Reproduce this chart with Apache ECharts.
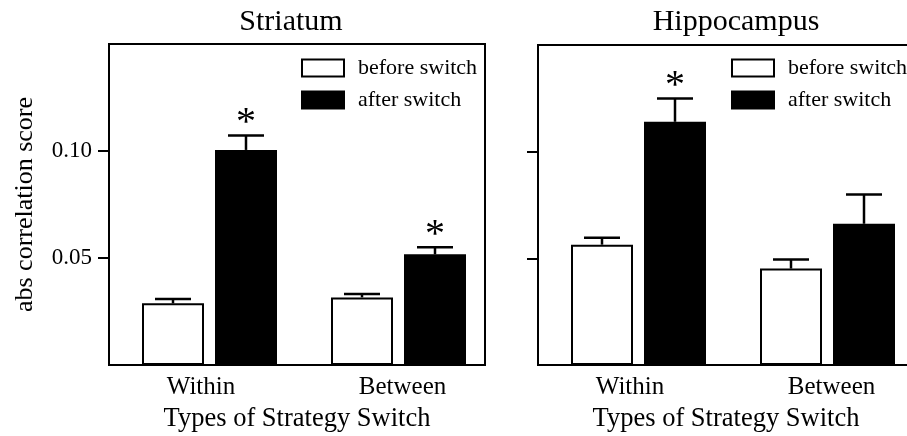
<!DOCTYPE html>
<html>
<head>
<meta charset="utf-8">
<script src="https://cdn.jsdelivr.net/npm/echarts@6/dist/echarts.min.js"></script>
<style>
  html, body { margin: 0; padding: 0; background: #fff; }
  #chart { width: 907px; height: 436px; }
</style>
</head>
<body>
<div id="chart"></div>
<script>
// ---- data -------------------------------------------------------------
const categories = ['Within', 'Between'];
const seriesNames = ['before switch', 'after switch'];
const panelTitles = ['Striatum', 'Hippocampus'];
const yAxisName = 'abs correlation score';
const xAxisName = 'Types of Strategy Switch';
const yTicks = [0.05, 0.10];

// Striatum: mean and SEM per switch type
const striatumBefore = [0.0288, 0.0316];
const striatumBeforeErr = [0.0020, 0.0016];
const striatumAfter = [0.1005, 0.0517];
const striatumAfterErr = [0.0068, 0.0033];
const striatumSig = [1, 1];

// Hippocampus: mean and SEM per switch type
const hippoBefore = [0.0564, 0.0452];
const hippoBeforeErr = [0.0033, 0.0042];
const hippoAfter = [0.1140, 0.0662];
const hippoAfterErr = [0.0109, 0.0137];
const hippoSig = [1, 0];

// ---- layout / style ---------------------------------------------------
const FONT = '"Liberation Serif", "Times New Roman", Times, serif';
const BAR_W = 62;
const BAR_BORDER = 2;
const BAR_GAP_PX = 11;
const HALF_PAIR = (BAR_W + BAR_GAP_PX) / 2;
const PLOT_W = 376;
const GROUP_FIRST_PX = 100.5;   // first group centre from plot's left edge
const GROUP_STEP_PX = 189;      // distance between group centres
const X_MIN = -GROUP_FIRST_PX / GROUP_STEP_PX;
const X_MAX = X_MIN + PLOT_W / GROUP_STEP_PX;

const panels = [
  { title: panelTitles[0], titleX: 291, left: 109, top: 44, bottom: 365, showLabels: true,
    before: striatumBefore, beforeErr: striatumBeforeErr,
    after: striatumAfter, afterErr: striatumAfterErr, sig: striatumSig, legendX: 301 },
  { title: panelTitles[1], titleX: 736, left: 538, top: 45, bottom: 365, showLabels: false,
    before: hippoBefore, beforeErr: hippoBeforeErr,
    after: hippoAfter, afterErr: hippoAfterErr, sig: hippoSig, legendX: 731 }
];

const labelShift = [[0, 17, 0, 0], [0, 0, 0, 8]];

function errorBars(offsetPx) {
  return function (params, api) {
    const x = api.value(0), v = api.value(1), e = api.value(2), sig = api.value(3);
    const top = api.coord([x, v]);
    const cap = api.coord([x, v + e]);
    const cx = top[0] + offsetPx;
    const lineStyle = { stroke: '#000', lineWidth: 2.5 };
    const children = [
      { type: 'line', shape: { x1: cx, y1: top[1], x2: cx, y2: cap[1] }, style: lineStyle },
      { type: 'line', shape: { x1: cx - 18, y1: cap[1], x2: cx + 18, y2: cap[1] }, style: lineStyle }
    ];
    if (sig) {
      children.push({
        type: 'text', x: cx, y: cap[1] - 12,
        style: { text: '*', font: '40px ' + FONT, fill: '#000', align: 'center', verticalAlign: 'middle' }
      });
    }
    return { type: 'group', children };
  };
}

const option = {
  animation: false,
  backgroundColor: '#fff',
  title: [], legend: [], grid: [], xAxis: [], yAxis: [], series: []
};

panels.forEach((p, i) => {
  option.title.push({
    text: p.title, left: p.titleX, top: 7, textAlign: 'center', padding: 0,
    textStyle: { fontFamily: FONT, fontSize: 30, fontWeight: 'normal', color: '#000' }
  });
  option.legend.push({
    orient: 'vertical', left: p.legendX, top: 57, padding: 0,
    itemWidth: 42, itemHeight: 17, itemGap: 10, selectedMode: false, icon: 'rect',
    data: seriesNames,
    textStyle: { fontFamily: FONT, fontSize: 22, color: '#000', padding: [0, 0, 0, 9] }
  });
  option.grid.push({
    left: p.left, top: p.top, width: PLOT_W, height: p.bottom - p.top,
    outerBoundsMode: 'none', containLabel: false,
    show: true, borderColor: '#000', borderWidth: 2, backgroundColor: 'transparent'
  });
  option.xAxis.push({
    gridIndex: i, type: 'value', min: X_MIN, max: X_MAX,
    axisLine: { show: true, onZero: false, lineStyle: { color: '#000', width: 2 } },
    axisTick: { show: false }, splitLine: { show: false },
    axisLabel: {
      customValues: [0, 1], margin: 10,
      formatter: v => '{c' + Math.round(v) + '|' + categories[Math.round(v)] + '}',
      rich: {
        c0: { fontFamily: FONT, fontSize: 25, color: '#000', padding: labelShift[0] },
        c1: { fontFamily: FONT, fontSize: 25, color: '#000', padding: labelShift[1] }
      }
    },
    name: xAxisName, nameLocation: 'middle', nameGap: 41,
    nameTextStyle: { fontFamily: FONT, fontSize: 26.5, color: '#000' }
  });
  option.yAxis.push({
    gridIndex: i, type: 'value', min: 0, max: 0.15,
    axisLine: { show: true, onZero: false, lineStyle: { color: '#000', width: 2 } },
    axisTick: { show: true, customValues: yTicks, length: 11, lineStyle: { color: '#000', width: 2 } },
    axisLabel: {
      show: p.showLabels, customValues: yTicks, margin: 17,
      formatter: v => v.toFixed(2),
      fontFamily: FONT, fontSize: 23, color: '#000'
    },
    splitLine: { show: false },
    name: p.showLabels ? yAxisName : '', nameLocation: 'middle', nameGap: 71,
    nameTextStyle: { fontFamily: FONT, fontSize: 26, color: '#000' }
  });

  const common = { xAxisIndex: i, yAxisIndex: i, silent: true, emphasis: { disabled: true } };
  option.series.push(Object.assign({
    type: 'bar', name: seriesNames[0], barWidth: BAR_W, barGap: (BAR_GAP_PX / BAR_W * 100) + '%',
    data: p.before.map((v, k) => [k, v]),
    itemStyle: { color: '#fff', borderColor: '#000', borderWidth: BAR_BORDER }
  }, common));
  option.series.push(Object.assign({
    type: 'bar', name: seriesNames[1], barWidth: BAR_W,
    data: p.after.map((v, k) => [k, v]),
    itemStyle: { color: '#000', borderColor: '#000', borderWidth: BAR_BORDER }
  }, common));
  option.series.push(Object.assign({
    type: 'custom', renderItem: errorBars(-HALF_PAIR), z: 5,
    data: p.before.map((v, k) => [k, v, p.beforeErr[k], 0])
  }, common));
  option.series.push(Object.assign({
    type: 'custom', renderItem: errorBars(HALF_PAIR), z: 5,
    data: p.after.map((v, k) => [k, v, p.afterErr[k], p.sig[k]])
  }, common));
});

const chart = echarts.init(document.getElementById('chart'), null, { renderer: 'canvas' });
chart.setOption(option);
</script>
</body>
</html>
